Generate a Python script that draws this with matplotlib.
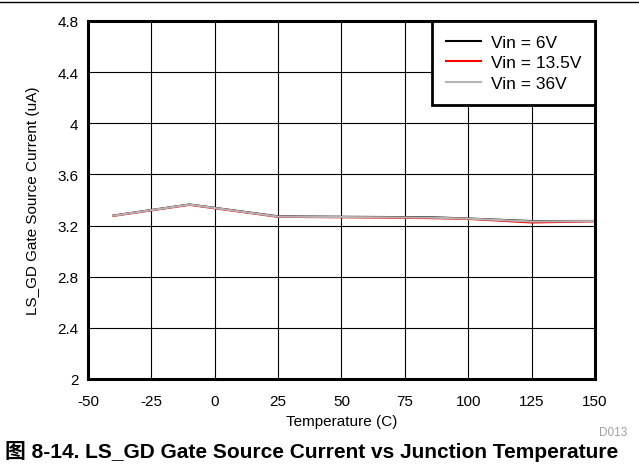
import numpy as np
import matplotlib.pyplot as plt

plt.rcParams['font.family'] = ['Liberation Sans', 'DejaVu Sans']
plt.rcParams['axes.unicode_minus'] = False

temp = [-40, -10, 25, 55, 85, 100, 125, 150]
i_6v = [3.278, 3.365, 3.272, 3.268, 3.265, 3.255, 3.235, 3.236]
i_13v5 = [3.276, 3.362, 3.268, 3.264, 3.258, 3.252, 3.224, 3.233]
i_36v = [3.277, 3.364, 3.270, 3.266, 3.262, 3.254, 3.232, 3.235]

fig = plt.figure(figsize=(6.39, 4.77), dpi=100)
ax = fig.add_axes([0.1377, 0.2034, 0.7934, 0.7505])

ax.plot(temp, i_6v, color='black', lw=1.5, label='Vin = 6V')
ax.plot(temp, i_13v5, color='red', lw=1.5, label='Vin = 13.5V')
ax.plot(temp, i_36v, color='#b4b4b4', lw=1.5, label='Vin = 36V')

ax.set_xlim(-50, 150)
ax.set_ylim(2, 4.8)
ax.set_xticks(np.arange(-50, 151, 25))
ax.set_yticks([2, 2.4, 2.8, 3.2, 3.6, 4, 4.4, 4.8])
ax.set_yticklabels(['2', '2.4', '2.8', '3.2', '3.6', '4', '4.4', '4.8'])
ax.grid(True, color='black', lw=0.8)
ax.tick_params(length=0, labelsize=11)
ax.tick_params(axis='x', pad=11)
ax.tick_params(axis='y', pad=7)
for s in ax.spines.values():
    s.set_linewidth(2.2)
ax.set_xlabel('Temperature (C)', fontsize=11, labelpad=4)
ax.set_ylabel('LS_GD Gate Source Current (uA)', fontsize=11, labelpad=12)

leg = ax.legend(loc='upper right', bbox_to_anchor=(1, 1), borderaxespad=0,
                fontsize=12.5, fancybox=False, framealpha=1, handlelength=2.0,
                labelspacing=0.3, borderpad=0.8, handletextpad=0.55)
leg.get_frame().set_edgecolor('black')
leg.get_frame().set_linewidth(2)

fig.text(0.982, 0.085, 'D013', color='#a0a0a0', fontsize=8.5, ha='right')
fig.text(0.008, 0.04, '图 8-14. LS_GD Gate Source Current vs Junction Temperature',
         fontsize=15, fontweight='bold', family=['Liberation Sans', 'Noto Sans CJK SC'])
fig.add_artist(plt.Line2D([0, 1], [0.994, 0.994], color='black', lw=1))

fig.savefig('out.png', dpi=100)
